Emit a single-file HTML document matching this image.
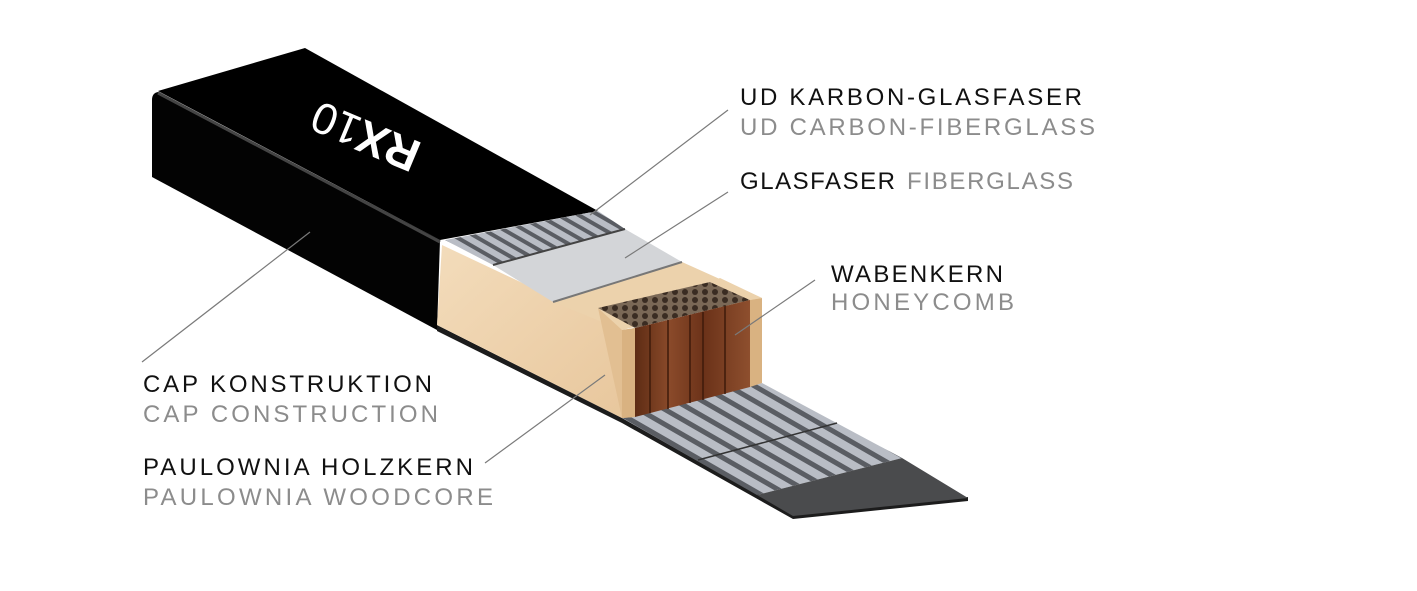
<!DOCTYPE html>
<html><head><meta charset="utf-8"><style>
html,body{margin:0;padding:0;background:#fff;}
svg{display:block}
text{font-family:"Liberation Sans",sans-serif;font-size:24px;}
.k{fill:#111}.g{fill:#8c8c8c}
</style></head><body>
<svg width="1417" height="591" viewBox="0 0 1417 591" xmlns="http://www.w3.org/2000/svg">
<defs>
<pattern id="ud" width="10" height="10" patternUnits="userSpaceOnUse" patternTransform="rotate(29.9)">
<rect width="10" height="10" fill="#b9bdc5"/><rect y="6" width="10" height="4" fill="#5a5d63"/>
</pattern>
<pattern id="ud2" width="13" height="13" patternUnits="userSpaceOnUse" patternTransform="rotate(29.9)">
<rect width="13" height="13" fill="#b9bdc5"/><rect y="8" width="13" height="5" fill="#5a5d63"/>
</pattern>
<linearGradient id="wood" x1="0" y1="0" x2="1" y2="1">
<stop offset="0" stop-color="#f3dcbb"/><stop offset="1" stop-color="#e8c79d"/></linearGradient>
<linearGradient id="hc" x1="0" y1="0" x2="1" y2="0">
<stop offset="0" stop-color="#5e2c14"/><stop offset="0.3" stop-color="#8a4a2a"/><stop offset="0.6" stop-color="#6b3219"/><stop offset="1" stop-color="#8e4f2e"/></linearGradient>
<pattern id="hcs" width="10" height="8" patternUnits="userSpaceOnUse">
<rect width="10" height="8" fill="#7a6856"/><circle cx="5" cy="4" r="3" fill="#3a2c22"/></pattern>
<linearGradient id="side" x1="0" y1="0" x2="0" y2="1">
<stop offset="0" stop-color="#1a1a1a"/><stop offset="0.15" stop-color="#050505"/><stop offset="1" stop-color="#000"/></linearGradient>
</defs>

<!-- bottom base edge -->
<polygon points="437,325 622,418 793,514 968,497 968,501 793,519 622,423 437,331" fill="#1c1c1c"/>
<!-- lower strips -->
<polygon points="622,418 762,383 902,458 757,495" fill="url(#ud2)"/>
<line x1="698" y1="460" x2="837" y2="423" stroke="#333" stroke-width="1.5"/>
<polygon points="757,495 902,458 968,498 793,516" fill="#4a4b4d"/>

<!-- cap side face -->
<path d="M158,92 L440,240 L437,330 L152,177 L152,100 Q152,93 158,92 Z" fill="#030303"/>
<!-- cap top face -->
<polygon points="158,91 305,48 598,211 440,240" fill="#000"/>
<line x1="158" y1="93" x2="440" y2="242" stroke="#444" stroke-width="3"/>
<text transform="translate(373,140) rotate(202.6)" x="-48" y="16" style="font-size:46px;font-weight:bold;fill:#fff">RX<tspan style="font-weight:normal;font-size:44px">10</tspan></text>

<!-- wood side -->
<polygon points="442,245 622,330 622,418 437,325" fill="url(#wood)"/>
<!-- wood top -->
<polygon points="553,302 682,262 762,298 622,330" fill="#ecd2ac"/>
<!-- upper UD -->
<polygon points="445,240 598,211 625,229 493,265" fill="url(#ud)"/>
<!-- glasfaser -->
<polygon points="493,265 625,229 682,262 553,302" fill="#d3d5d8"/>
<polyline points="493,265 625,229" stroke="#444" stroke-width="2" fill="none"/>
<polyline points="553,302 682,262" stroke="#777" stroke-width="2" fill="none"/>
<!-- honeycomb top -->
<polygon points="598,308 710,282 750,300 635,328" fill="url(#hcs)"/>
<!-- wood left wall front -->
<polygon points="598,308 622,330 635,328 635,417 622,418" fill="#e2bf92"/>
<polygon points="622,330 635,328 635,417 622,418" fill="#d9b281"/>
<!-- honeycomb front -->
<polygon points="635,328 750,300 750,387 635,417" fill="url(#hc)"/>
<g stroke="#3e1a0a" stroke-width="1.5">
<line x1="650" y1="325" x2="650" y2="413"/><line x1="668" y1="320" x2="668" y2="409"/>
<line x1="690" y1="315" x2="690" y2="403"/><line x1="703" y1="312" x2="703" y2="400"/>
<line x1="725" y1="306" x2="725" y2="394"/></g>
<!-- right wall front -->
<polygon points="750,300 762,298 762,383 750,387" fill="#d9b281"/>
<polygon points="710,282 750,300 762,298 720,278" fill="#ecd2ac"/>

<!-- leaders -->
<g stroke="#7a7a7a" stroke-width="1.2">
<line x1="728" y1="110" x2="590" y2="215"/>
<line x1="728" y1="192" x2="625" y2="258"/>
<line x1="815" y1="280" x2="735" y2="335"/>
<line x1="142" y1="362" x2="310" y2="232"/>
<line x1="485" y1="463" x2="605" y2="375"/>
</g>

<text class="k" x="740" y="105" textLength="342" lengthAdjust="spacing">UD KARBON-GLASFASER</text>
<text class="g" x="740" y="135" textLength="355" lengthAdjust="spacing">UD CARBON-FIBERGLASS</text>
<text class="k" x="740" y="189" textLength="155" lengthAdjust="spacing">GLASFASER</text>
<text class="g" x="907" y="189" textLength="166" lengthAdjust="spacing">FIBERGLASS</text>
<text class="k" x="831" y="282" textLength="172" lengthAdjust="spacing">WABENKERN</text>
<text class="g" x="831" y="310" textLength="183" lengthAdjust="spacing">HONEYCOMB</text>
<text class="k" x="143" y="392" textLength="289" lengthAdjust="spacing">CAP KONSTRUKTION</text>
<text class="g" x="143" y="422" textLength="295" lengthAdjust="spacing">CAP CONSTRUCTION</text>
<text class="k" x="143" y="475" textLength="330" lengthAdjust="spacing">PAULOWNIA HOLZKERN</text>
<text class="g" x="143" y="505" textLength="350" lengthAdjust="spacing">PAULOWNIA WOODCORE</text>
</svg>
</body></html>
